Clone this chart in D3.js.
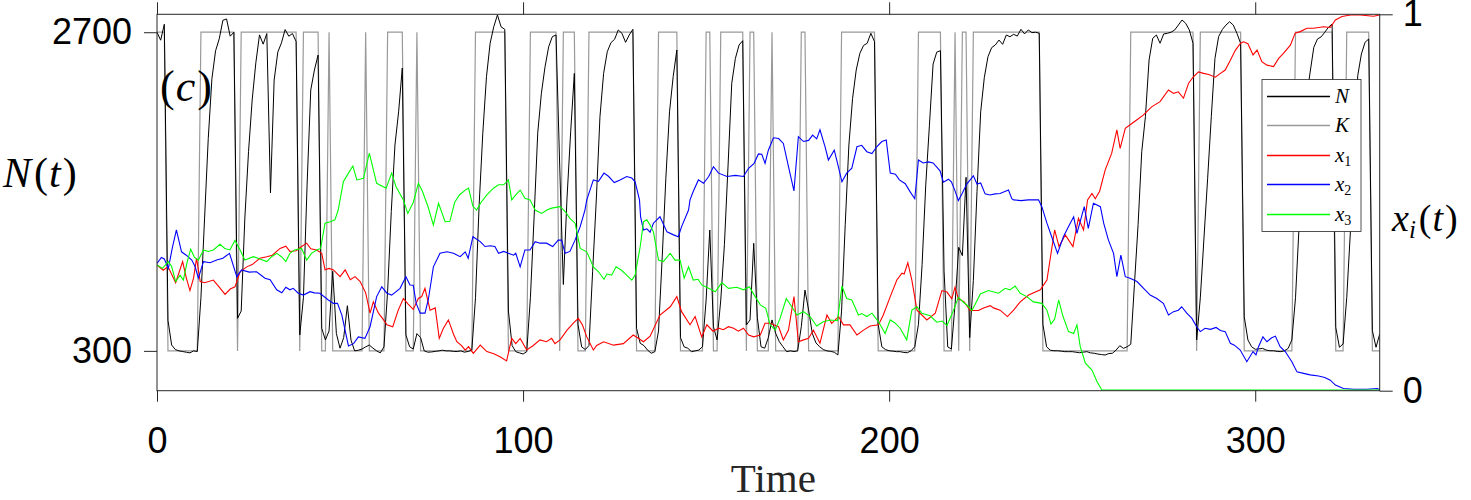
<!DOCTYPE html>
<html>
<head>
<meta charset="utf-8">
<script src="https://cdn.jsdelivr.net/npm/d3@7"></script>
<style>
  body { margin: 0; background: #fff; }
</style>
</head>
<body>
<div id="viz_1"></div>
<script>
// ---- data ----
var timeTicks = [0, 100, 200, 300];
var nTicks = [300, 2700];
var xiTicks = [0, 1];
var tMax = 334;
var nMax = 2835;

// K(t) is 2700 on these integer time ranges, 300 otherwise
var kHighRanges = [[0,2],[12,21],[23,38],[40,44],[47,47],[57,57],[63,67],[71,71],[87,95],
    [102,109],[111,114],[118,130],[137,142],[150,151],[154,160],[162,163],[168,168],[176,177],
    [187,196],[208,214],[218,218],[220,221],[223,241],[266,283],[285,296],[311,321],[325,331]];
var kLevels = [300, 2700];

// N(t), one value for each t = 0..334
var nValues = [
    2700, 2640, 2760, 530, 344, 310, 300, 295, 290, 285,
    300, 295, 700, 1300, 1900, 2350, 2560, 2650, 2790, 2800,
    2670, 2700, 545, 600, 1300, 1800, 2190, 2470, 2680, 2610,
    2690, 1490, 2340, 2550, 2620, 2720, 2670, 2690, 2630, 420,
    700, 1550, 2265, 2415, 2528, 470, 382, 450, 900, 430,
    320, 400, 640, 380, 300, 305, 314, 330, 344, 320,
    300, 285, 330, 750, 1350, 1850, 2100, 2430, 420, 331,
    314, 430, 400, 300, 290, 292, 296, 300, 305, 300,
    300, 296, 295, 300, 290, 296, 305, 700, 1400, 1940,
    2365, 2617, 2742, 2830, 2740, 2722, 600, 340, 294, 285,
    276, 294, 700, 1300, 1940, 2240, 2440, 2591, 2667, 2679,
    1700, 800, 1450, 1950, 2390, 500, 330, 310, 340, 900,
    1436, 2064, 2390, 2553, 2621, 2647, 2717, 2692, 2624, 2679,
    2722, 470, 357, 340, 306, 282, 294, 450, 1000, 1600,
    2100, 2365, 2566, 400, 330, 320, 294, 300, 306, 331,
    683, 1210, 482, 382, 683, 1100, 1700, 2315, 2503, 2604,
    2636, 495, 533, 1110, 550, 331, 320, 400, 533, 432,
    369, 331, 294, 300, 295, 300, 482, 758, 608, 432,
    360, 331, 310, 300, 296, 290, 269, 600, 1250, 1850,
    2200, 2415, 2541, 2600, 2617, 2692, 2629, 500, 331, 310,
    301, 298, 294, 294, 288, 286, 301, 331, 500, 950,
    1550, 2000, 2460, 2550, 2561, 900, 330, 314, 650, 1080,
    1017, 1607, 400, 830, 1500, 2100, 2360, 2516, 2584, 2604,
    2641, 2609, 2679, 2666, 2684, 2671, 2722, 2687, 2717, 2697,
    2700, 2692, 500, 331, 305, 301, 301, 298, 294, 294,
    294, 290, 286, 290, 294, 285, 282, 276, 272, 269,
    280, 282, 306, 339, 319, 331, 350, 800, 1250, 1800,
    2064, 2491, 2654, 2679, 2617, 2687, 2692, 2700, 2717, 2754,
    2792, 2767, 2717, 2617, 382, 700, 1150, 1600, 2064, 2503,
    2667, 2720, 2754, 2779, 2754, 2692, 2617, 557, 382, 331,
    312, 315, 319, 306, 301, 301, 296, 294, 301, 319,
    382, 700, 1250, 1800, 2200, 2400, 2586, 2649, 2665, 2700,
    2737, 2762, 477, 327, 352, 703, 1200, 1707, 2373, 2536,
    2624, 2649, 452, 327, 427
];

// x1(t) as [time, share] vertices
var x1Points = [[0,0.334],[1.7,0.320],[3,0.33],[5.1,0.287],[7,0.343],[8,0.30],[9,0.266],[10,0.30],[10.8,0.352],
    [11.8,0.29],[13,0.287],[15.4,0.294],[17,0.275],[18.6,0.256],[20,0.27],[21.3,0.276],[22.7,0.316],[24.5,0.329],
    [26,0.335],[28.1,0.352],[30,0.356],[31.5,0.36],[33.6,0.378],[35.2,0.384],[36.3,0.37],[38,0.372],[39.5,0.383],
    [40.9,0.392],[42,0.377],[43.6,0.374],[45,0.365],[45.9,0.321],[47,0.325],[48.2,0.321],[50,0.303],[51.4,0.321],
    [52.8,0.295],[54.1,0.303],[55.5,0.290],[57,0.26],[58.2,0.206],[59.1,0.236],[60.5,0.206],[61.9,0.188],[62.8,0.175],
    [64.4,0.17],[65.9,0.214],[67.3,0.245],[68.6,0.23],[70,0.216],[71.4,0.245],[72.3,0.25],[73.2,0.272],[74.6,0.214],
    [76,0.22],[77.1,0.139],[78.2,0.165],[79.6,0.188],[81,0.15],[81.9,0.130],[83.2,0.12],[84.2,0.108],[85.1,0.117],
    [86.4,0.099],[88.3,0.121],[90.1,0.104],[92,0.098],[93.7,0.090],[95.5,0.079],[96.9,0.139],[98,0.125],[99.2,0.139],
    [101,0.108],[102.8,0.12],[104.6,0.135],[106.4,0.13],[107.8,0.139],[108.7,0.125],[110.1,0.135],[112,0.161],
    [113.8,0.18],[115.1,0.192],[116.2,0.175],[117.4,0.143],[119.2,0.108],[120.1,0.12],[122,0.130],[124.7,0.121],
    [127.4,0.125],[130.1,0.148],[132.9,0.130],[134.7,0.145],[137.4,0.201],[140.2,0.223],[142,0.250],[143.3,0.21],
    [145.6,0.175],[147,0.197],[148.8,0.143],[150.2,0.175],[151.9,0.158],[153.4,0.166],[154.7,0.162],[156.1,0.17],
    [157.5,0.166],[158.8,0.158],[160.2,0.166],[161.6,0.148],[163,0.143],[164.8,0.148],[166.1,0.179],[167.5,0.179],
    [168.4,0.175],[169.8,0.170],[171.1,0.135],[172.5,0.161],[174,0.250],[175.2,0.130],[176.6,0.135],[178,0.139],
    [179.3,0.161],[181.1,0.126],[183,0.201],[184.3,0.179],[186.2,0.197],[187.5,0.175],[189.3,0.175],[191.2,0.148],
    [193,0.161],[194.8,0.172],[197.1,0.175],[198.4,0.201],[200.3,0.250],[202.1,0.294],[203.5,0.312],[204.1,0.31],
    [205.1,0.340],[206.2,0.294],[207.6,0.214],[210.3,0.188],[212.6,0.206],[214.4,0.266],[215.8,0.262],[217.1,0.244],
    [218,0.275],[218.9,0.244],[220.5,0.236],[222.1,0.213],[224.4,0.213],[225.8,0.22],[227.6,0.226],[228.5,0.22],
    [230.3,0.214],[232.3,0.197],[234,0.214],[235.8,0.236],[238.1,0.254],[241.3,0.268],[243.1,0.294],[245.2,0.427],
    [246.4,0.383],[248.1,0.414],[250.2,0.383],[251.7,0.458],[253.1,0.427],[254.2,0.507],[255.4,0.524],[256.3,0.51],
    [257.5,0.53],[259,0.586],[260.8,0.631],[262.2,0.693],[263.1,0.644],[264.5,0.697],[266.3,0.710],[267.7,0.72],
    [269.4,0.732],[271.7,0.754],[274,0.768],[276.3,0.799],[277.7,0.79],[279,0.794],[280.4,0.777],[281.8,0.817],
    [283.1,0.834],[284.5,0.847],[285.9,0.843],[287.3,0.84],[289.1,0.833],[290.5,0.843],[291.8,0.852],[293.2,0.878],
    [294.6,0.905],[296,0.923],[296.8,0.927],[298,0.922],[299.4,0.892],[300.5,0.905],[301.8,0.874],[303.2,0.865],
    [305,0.861],[306.4,0.883],[307.7,0.896],[309.6,0.918],[310.9,0.950],[312.3,0.954],[314.1,0.963],[315.9,0.963],
    [318.7,0.967],[320.5,0.965],[321.9,0.985],[323.7,0.994],[326,0.998],[328.7,0.998],[332.3,0.995],[334,0.998]];

// x2(t)
var x2Points = [[0,0.338],[1.2,0.354],[2,0.35],[3.1,0.325],[4.2,0.38],[5.3,0.427],[6.7,0.369],[8,0.36],[9.5,0.347],
    [10.4,0.33],[11.3,0.299],[12.7,0.343],[14.5,0.34],[16.3,0.347],[18,0.352],[19.8,0.365],[21.8,0.303],[23.1,0.321],
    [25.2,0.315],[27.2,0.316],[29.5,0.299],[30.9,0.295],[32.7,0.268],[34.1,0.260],[35.2,0.275],[36.3,0.268],
    [37.2,0.272],[38.6,0.259],[40,0.254],[41.8,0.263],[43,0.26],[44.5,0.259],[46.8,0.241],[48.2,0.232],[49.3,0.232],
    [50.5,0.201],[52.3,0.119],[53.7,0.125],[55,0.143],[56.8,0.139],[58.2,0.170],[60,0.25],[61.4,0.276],[62.8,0.259],
    [64.1,0.254],[66.4,0.272],[68,0.303],[69.1,0.281],[70,0.28],[70.8,0.232],[71.9,0.206],[73.2,0.206],[74.1,0.241],
    [75.5,0.329],[77.3,0.365],[79.2,0.369],[81,0.365],[82.8,0.356],[84.2,0.369],[85,0.352],[86.3,0.409],[88.3,0.396],
    [89.6,0.383],[91,0.385],[92.3,0.383],[93.3,0.365],[94.7,0.37],[96,0.365],[97.4,0.36],[98,0.365],[99.2,0.329],
    [100.5,0.374],[101.9,0.374],[103.3,0.396],[104.6,0.392],[106.4,0.392],[108.1,0.383],[109.6,0.400],[110.5,0.40],
    [111.5,0.365],[112.8,0.37],[114.2,0.400],[115.6,0.436],[116.9,0.480],[117.4,0.507],[119.2,0.560],[120.6,0.556],
    [122.1,0.578],[123.4,0.569],[124.9,0.553],[126.5,0.56],[128.3,0.569],[129.7,0.565],[130.6,0.555],[131.8,0.507],
    [132.1,0.462],[132.9,0.427],[133.8,0.43],[134.7,0.421],[135.6,0.445],[137.4,0.462],[139.3,0.422],[141.1,0.414],
    [142.4,0.409],[143.3,0.436],[145.2,0.480],[145.6,0.507],[146.5,0.53],[147.9,0.560],[149.3,0.551],[150.7,0.569],
    [152,0.595],[153.4,0.578],[155.7,0.569],[158,0.572],[160.2,0.569],[161.6,0.591],[163.1,0.604],[164.3,0.629],
    [165.2,0.628],[166.1,0.604],[167,0.639],[168.4,0.672],[169.8,0.67],[171.1,0.657],[172.5,0.595],[174,0.531],
    [175.2,0.675],[176.6,0.662],[178,0.665],[179.1,0.679],[180.2,0.669],[181.1,0.693],[182.5,0.648],[183.4,0.613],
    [185,0.639],[185.9,0.604],[187.1,0.555],[188.4,0.578],[189.8,0.591],[191.2,0.648],[192.5,0.652],[193.9,0.635],
    [195.3,0.63],[196.6,0.648],[198,0.662],[199.2,0.666],[200.3,0.578],[201.7,0.575],[202.8,0.560],[204.4,0.55],
    [205.7,0.529],[207,0.51],[208,0.613],[209.3,0.605],[210.7,0.608],[212,0.605],[213.9,0.584],[214.8,0.554],
    [216.2,0.562],[217,0.555],[218,0.531],[218.9,0.505],[219.9,0.523],[221.2,0.549],[222.3,0.562],[223,0.571],
    [224,0.549],[225,0.552],[226.2,0.523],[227.5,0.52],[229,0.523],[230.3,0.524],[232.6,0.533],[233.5,0.51],
    [234,0.507],[236,0.505],[238,0.507],[240.8,0.507],[241.7,0.489],[243.1,0.445],[244.4,0.409],[246,0.365],
    [247.6,0.409],[249,0.436],[250.4,0.462],[251.3,0.418],[253.3,0.489],[254.4,0.431],[255.8,0.498],[257.7,0.489],
    [258.6,0.445],[259.9,0.400],[261.3,0.365],[262.2,0.303],[263.3,0.360],[264.5,0.303],[265.8,0.299],[267.7,0.290],
    [269.5,0.272],[271.3,0.254],[273.1,0.245],[274.9,0.232],[276.3,0.201],[277.7,0.210],[279,0.214],[279.9,0.223],
    [281.3,0.206],[282.7,0.192],[284,0.170],[285,0.157],[286.3,0.166],[287.8,0.163],[289.3,0.168],[290.5,0.16],
    [291.8,0.157],[293.2,0.126],[294.3,0.121],[295.9,0.108],[297.7,0.077],[299.4,0.104],[300.2,0.095],[300.9,0.117],
    [302.1,0.143],[303.2,0.130],[304.4,0.14],[305.5,0.145],[306.8,0.117],[308.2,0.104],[310,0.077],[311.4,0.050],
    [313.2,0.046],[315,0.042],[317.3,0.039],[319,0.035],[320.5,0.028],[321.9,0.015],[324.1,0.006],[326.9,0.004],
    [330.5,0.004],[333.3,0.006],[334,0.003]];

// x3(t)
var x3Points = [[0,0.334],[1.5,0.325],[3.1,0.343],[4,0.33],[5.1,0.290],[6.3,0.307],[7.2,0.294],[8.2,0.34],[9.2,0.376],
    [10.2,0.355],[11.3,0.347],[12.7,0.374],[14,0.37],[15.4,0.374],[17.2,0.389],[18.5,0.378],[19.9,0.374],[21.3,0.399],
    [22.7,0.374],[24,0.347],[26.3,0.356],[28.1,0.35],[30,0.343],[31.3,0.356],[32.7,0.365],[34,0.356],[35.2,0.343],
    [36.3,0.365],[37.6,0.374],[39.5,0.378],[40.9,0.347],[42.2,0.365],[43.6,0.374],[44.7,0.378],[45.9,0.445],
    [47.3,0.449],[48.6,0.454],[49.5,0.480],[50.9,0.555],[52.3,0.578],[53.5,0.597],[54.6,0.560],[56.4,0.564],
    [58,0.631],[60,0.551],[62.6,0.538],[64.1,0.578],[65.3,0.542],[67.3,0.507],[68.5,0.471],[70,0.50],[71.4,0.551],
    [72.5,0.53],[74,0.49],[75.5,0.440],[76.9,0.498],[78.7,0.449],[80,0.45],[81.3,0.50],[82.6,0.52],[84.2,0.533],
    [85.1,0.538],[86.3,0.49],[87.3,0.480],[88.5,0.50],[90.1,0.520],[91.9,0.538],[93.3,0.547],[94.7,0.547],[96,0.560],
    [96.9,0.507],[98,0.52],[99.2,0.533],[100.5,0.511],[101.9,0.507],[103.3,0.480],[105.1,0.471],[106.5,0.48],
    [107.8,0.485],[110.1,0.489],[111.5,0.476],[112.8,0.458],[114.2,0.445],[115.6,0.378],[117.4,0.369],[119.2,0.329],
    [120.6,0.316],[122.1,0.296],[122.9,0.31],[124.2,0.307],[125.4,0.329],[126.9,0.32],[128.3,0.307],[129.7,0.294],
    [130.6,0.307],[132,0.383],[132.9,0.449],[133.8,0.454],[134.7,0.44],[135.6,0.422],[137,0.347],[138.3,0.343],
    [140.2,0.365],[141.5,0.347],[142.9,0.347],[144,0.299],[145.2,0.329],[146.5,0.294],[147.8,0.296],[148.8,0.281],
    [150.7,0.272],[152.5,0.263],[154.3,0.287],[156.1,0.272],[158.4,0.275],[160.2,0.268],[161.8,0.276],[163.4,0.25],
    [164.8,0.228],[166.3,0.219],[167.5,0.175],[168.9,0.161],[170.2,0.192],[171.9,0.245],[173.4,0.223],[174.8,0.201],
    [176.6,0.210],[178.4,0.197],[180.2,0.172],[182,0.183],[183.9,0.188],[185.9,0.186],[187.1,0.278],[188.4,0.245],
    [189.8,0.241],[191.6,0.201],[192.5,0.205],[193.9,0.197],[195.3,0.206],[197.1,0.183],[198.9,0.152],[200.3,0.188],
    [201.6,0.18],[203,0.166],[204.8,0.135],[206.2,0.214],[207.6,0.223],[208.9,0.206],[211.2,0.199],[213,0.182],
    [214.5,0.185],[215.8,0.173],[217.6,0.214],[218.9,0.248],[220.3,0.235],[221.5,0.225],[222.6,0.213],[223.5,0.230],
    [224.9,0.257],[227.1,0.266],[229.9,0.259],[231.7,0.272],[233,0.268],[234.4,0.278],[235.8,0.259],[237.6,0.250],
    [239.4,0.236],[241.7,0.232],[243.1,0.214],[244.2,0.177],[245.2,0.19],[246.3,0.241],[247.5,0.197],[249,0.157],
    [250.4,0.152],[251.3,0.175],[252.2,0.117],[253.6,0.073],[255.4,0.055],[256.8,0.024],[258.1,0.002],[334,0.002]];

var legendItems = [
    { name: "N", sub: "", color: "#000000" },
    { name: "K", sub: "", color: "#999999" },
    { name: "x", sub: "1", color: "#ff0000" },
    { name: "x", sub: "2", color: "#0000ff" },
    { name: "x", sub: "3", color: "#00ff00" }
];

// set the dimensions and margins of the graph
var margin = { top: 14.3, right: 91.3, bottom: 109.3, left: 157 },
    width = 1471 - margin.left - margin.right,
    height = 500 - margin.top - margin.bottom;

var serif = "'Liberation Serif', 'Times New Roman', serif";
var sans = "'Liberation Sans', Arial, Helvetica, sans-serif";

var svg = d3.select("#viz_1")
    .append("svg")
    .attr("width", width + margin.left + margin.right)
    .attr("height", height + margin.top + margin.bottom)
    .append("g")
    .attr("transform", "translate(" + margin.left + "," + margin.top + ")");

var x = d3.scaleLinear().domain([0, tMax]).range([0, width]);
var yN = d3.scaleLinear().domain([0, nMax]).range([height, 0]);
var yX = d3.scaleLinear().domain([0, 1]).range([height, 0]);

svg.append("clipPath").attr("id", "plotclip")
    .append("rect").attr("width", width).attr("height", height);

// K samples built from the ranges
var kValues = d3.range(0, tMax + 1).map(function (t) {
    var on = kHighRanges.some(function (r) { return t >= r[0] && t <= r[1]; });
    return [t, on ? kLevels[1] : kLevels[0]];
});
var nSeries = nValues.map(function (v, t) { return [t, v]; });

var lineN = d3.line().x(function (d) { return x(d[0]); }).y(function (d) { return yN(d[1]); });
var lineX = d3.line().x(function (d) { return x(d[0]); }).y(function (d) { return yX(d[1]); });

var plot = svg.append("g").attr("clip-path", "url(#plotclip)");

// K and N on the left axis
plot.append("path").datum(kValues)
    .attr("fill", "none").attr("stroke", legendItems[1].color).attr("stroke-width", 1.2)
    .attr("d", lineN);
plot.append("path").datum(nSeries)
    .attr("fill", "none").attr("stroke", legendItems[0].color).attr("stroke-width", 1)
    .attr("d", lineN);

// shares on the right axis
[x1Points, x2Points, x3Points].forEach(function (pts, i) {
    plot.append("path").datum(pts)
        .attr("fill", "none").attr("stroke", legendItems[i + 2].color).attr("stroke-width", 1.1)
        .attr("d", lineX);
});

// box
svg.append("rect")
    .attr("width", width).attr("height", height)
    .attr("fill", "none").attr("stroke", "#262626").attr("stroke-width", 1);

function styleAxis(g, size) {
    g.select(".domain").remove();
    g.selectAll(".tick line").attr("stroke", "#262626");
    g.selectAll(".tick text")
        .style("font-family", sans)
        .style("font-size", size + "px")
        .attr("fill", "#000");
}

// Add X axis
svg.append("g")
    .attr("transform", "translate(0," + height + ")")
    .call(d3.axisBottom(x).tickValues(timeTicks).tickSize(11).tickPadding(26).tickFormat(d3.format("d")))
    .call(styleAxis, 36);
svg.append("g")
    .call(d3.axisTop(x).tickValues(timeTicks).tickSize(12).tickFormat(""))
    .call(styleAxis, 36);

// Add Y axes
svg.append("g")
    .call(d3.axisLeft(yN).tickValues(nTicks).tickSize(13).tickPadding(12).tickFormat(d3.format("d")))
    .call(styleAxis, 36);
svg.append("g")
    .attr("transform", "translate(" + width + ",0)")
    .call(d3.axisRight(yX).tickValues(xiTicks).tickSize(13).tickPadding(10).tickFormat(d3.format("d")))
    .call(styleAxis, 36);

// X axis label
svg.append("text")
    .attr("text-anchor", "middle")
    .attr("x", x(tMax / 2) + 5)
    .attr("y", 492 - margin.top)
    .style("font-family", serif)
    .style("font-size", "41px")
    .attr("fill", "#262626")
    .text("Time");

// math style labels built from tspans
function mathLabel(parent, parts, size) {
    var t = parent.append("text")
        .style("font-family", serif)
        .style("font-size", size + "px")
        .attr("fill", "#000");
    parts.forEach(function (p) {
        t.append("tspan")
            .style("font-style", p.it ? "italic" : "normal")
            .style("font-size", (p.size || size) + "px")
            .attr("dx", p.dx || 0)
            .attr("dy", p.dy || 0)
            .text(p.s);
    });
    return t;
}

// N(t) label
mathLabel(svg, [{ s: "N", it: true }, { s: "(", dx: 3 }, { s: "t", it: true, dx: 1 }, { s: ")", dx: 2 }], 42)
    .attr("x", 3 - margin.left).attr("y", 187 - margin.top);

// x_i(t) label
mathLabel(svg, [{ s: "x", it: true }, { s: "i", it: true, size: 25, dy: 7 }, { s: "(", dx: 3, dy: -7 },
    { s: "t", it: true, dx: 1 }, { s: ")", dx: 2 }], 38)
    .attr("x", 1392 - margin.left).attr("y", 231 - margin.top);

// panel tag
mathLabel(svg, [{ s: "(" }, { s: "c", it: true, dx: 1 }, { s: ")", dx: 2 }], 44)
    .attr("x", 160 - margin.left).attr("y", 101 - margin.top);

// legend
var lg = svg.append("g").attr("transform", "translate(" + (1262 - margin.left) + "," + (79.5 - margin.top) + ")");
lg.append("rect")
    .attr("width", 99).attr("height", 152)
    .attr("fill", "#fff").attr("stroke", "#262626").attr("stroke-width", 0.8);

var rows = lg.selectAll("g.row")
    .data(legendItems)
    .enter()
    .append("g")
    .attr("transform", function (d, i) { return "translate(0," + Math.round(17 + i * 29.4) + ")"; });
rows.append("line")
    .attr("x1", 5).attr("x2", 68)
    .attr("stroke", function (d) { return d.color; })
    .attr("stroke-width", 1.4);
rows.each(function (d) {
    var parts = [{ s: d.name, it: true }];
    if (d.sub) parts.push({ s: d.sub, size: 14, dy: 4 });
    mathLabel(d3.select(this), parts, 21).attr("x", 73).attr("y", 6);
});
</script>
</body>
</html>
